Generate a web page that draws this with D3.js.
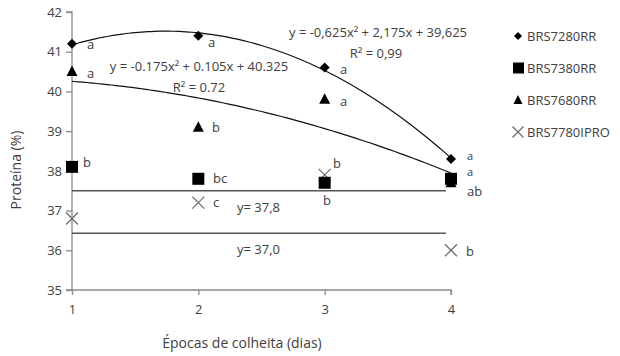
<!DOCTYPE html>
<html><head><meta charset="utf-8">
<script src="https://cdn.jsdelivr.net/npm/d3@7"></script>
<style>
body{margin:0;background:#fff;}
text{font-family:"Open Sans",sans-serif;fill:#404040;}
</style></head>
<body><svg id="chart" width="620" height="356"></svg>
<script>
// ---- data ----
const epochs = [1, 2, 3, 4];
const seriesNames = ["BRS7280RR", "BRS7380RR", "BRS7680RR", "BRS7780IPRO"];
const brs7280 = [41.2, 41.4, 40.6, 38.3];
const brs7380 = [38.1, 37.8, 37.7, 37.8];
const brs7680 = [40.5, 39.1, 39.8, 37.7];
const brs7780 = [36.8, 37.2, 37.9, 36.0];
const letters7280 = ["a", "a", "a", "a"];
const letters7380 = ["b", "bc", "b", "a"];
const letters7680 = ["a", "b", "a", "ab"];
const letters7780 = ["", "c", "b", "b"];
const yTicks = [35, 36, 37, 38, 39, 40, 41, 42];
const xTicks = [1, 2, 3, 4];
const coef7280 = [-0.625, 2.175, 39.625];
const coef7680 = [-0.175, 0.105, 40.325];
const hLineValues = [37.5, 36.43];
const hLineLabels = ["y= 37,8", "y= 37,0"];

const svg = d3.select("#chart");
const x = d3.scaleLinear().domain([1, 4]).range([72, 451]);
const y = d3.scaleLinear().domain([35, 42]).range([290, 12]);

// axes
const axisColor = "#8a8a8a";
const gy = svg.append("g").attr("transform", "translate(72,0)")
  .call(d3.axisLeft(y).tickValues(yTicks).tickSize(6).tickPadding(4).tickFormat(d3.format("d")));
const gx = svg.append("g").attr("transform", "translate(0,290)")
  .call(d3.axisBottom(x).tickValues(xTicks).tickSize(5).tickPadding(10).tickFormat(d3.format("d")));
[gx, gy].forEach(g => {
  g.select(".domain").attr("stroke", axisColor).attr("stroke-width", 1.3);
  g.selectAll(".tick line").attr("stroke", axisColor).attr("stroke-width", 1.3);
  g.selectAll(".tick text").style("font-size", "13px").style("font-family", "Open Sans").attr("fill", "#404040");
});
gy.select(".domain").attr("d", "M-6,290H0V12H-6");
gx.select(".domain").attr("d", "M72,0H451V5");

// axis titles
svg.append("text").attr("x", 242).attr("y", 348).attr("text-anchor", "middle")
  .style("font-size", "14px").text("Épocas de colheita (dias)");
svg.append("text").attr("transform", "translate(21,170) rotate(-90)").attr("text-anchor", "middle")
  .style("font-size", "14px").text("Proteína (%)");

// horizontal lines
hLineValues.forEach((v, i) => {
  svg.append("line").attr("x1", x(1)).attr("x2", x(3.96)).attr("y1", y(v)).attr("y2", y(v))
    .attr("stroke", "#555").attr("stroke-width", 1.5);
});
svg.append("text").attr("x", 237).attr("y", 212).style("font-size", "13px").text(hLineLabels[0]);
svg.append("text").attr("x", 237).attr("y", 254).style("font-size", "13px").text(hLineLabels[1]);

// trend curves
function quad(c) { return d3.range(1, 4.001, 0.05).map(t => [t, c[0]*t*t + c[1]*t + c[2]]); }
const line = d3.line().x(d => x(d[0])).y(d => y(d[1])).curve(d3.curveMonotoneX);
svg.append("path").attr("d", line(quad(coef7280))).attr("fill", "none").attr("stroke", "#111").attr("stroke-width", 1.2);
svg.append("path").attr("d", line(quad(coef7680))).attr("fill", "none").attr("stroke", "#111").attr("stroke-width", 1.2);

// equations
svg.append("text").attr("x", 378).attr("y", 37).attr("text-anchor", "middle").style("font-size", "13px").text("y = -0,625x² + 2,175x + 39,625");
svg.append("text").attr("x", 376).attr("y", 58).attr("text-anchor", "middle").style("font-size", "13px").text("R² = 0,99");
svg.append("text").attr("x", 199).attr("y", 71).attr("text-anchor", "middle").style("font-size", "13px").text("y = -0.175x² + 0.105x + 40.325");
svg.append("text").attr("x", 199).attr("y", 92).attr("text-anchor", "middle").style("font-size", "13px").text("R² = 0.72");

// markers
function drawMarker(g, type) {
  if (type === 0) g.append("path").attr("d", d3.symbol().type(d3.symbolSquare).size(50)()).attr("transform", "rotate(45)").attr("fill", "#000");
  else if (type === 1) g.append("rect").attr("x", -6).attr("y", -6).attr("width", 12).attr("height", 12).attr("fill", "#000");
  else if (type === 2) g.append("path").attr("d", "M0,-6L5.5,4.5L-5.5,4.5Z").attr("fill", "#000");
  else g.append("path").attr("d", "M-6,-6L6,6M-6,6L6,-6").attr("stroke", "#6a6a6a").attr("stroke-width", 1.2).attr("fill", "none");
}
const allSeries = [brs7780, brs7380, brs7680, brs7280];
const order = [3, 1, 2, 0];
allSeries.forEach((s, k) => {
  const t = order[k];
  s.forEach((v, i) => {
    const g = svg.append("g").attr("transform", `translate(${x(epochs[i])},${y(v)})`);
    drawMarker(g, t);
  });
});

// significance letters
const letterPos = [
  { L: letters7280, pos: [[87,49],[208,47],[340,74],[467,160]] },
  { L: letters7680, pos: [[87,78],[212,132],[340,106],[467,196]] },
  { L: letters7380, pos: [[83,167],[213,183],[323,205],[467,176]] },
  { L: letters7780, pos: [[0,0],[213,207],[333,168],[466,256]] }
];
letterPos.forEach((o, k) => {
  o.L.forEach((l, i) => {
    if (!l) return;
    const small = (i === 3 && (k === 0 || k === 2));
    svg.append("text").attr("x", o.pos[i][0]).attr("y", o.pos[i][1])
      .style("font-size", small ? "11px" : "13px").text(l);
  });
});

// legend
const legY = [36, 68, 100, 132];
seriesNames.forEach((n, i) => {
  const g = svg.append("g").attr("transform", `translate(518,${legY[i]})`);
  if (i === 0) g.append("path").attr("d", d3.symbol().type(d3.symbolSquare).size(32)()).attr("transform", "rotate(45)").attr("fill", "#000");
  else if (i === 1) g.append("rect").attr("x", -5).attr("y", -5.5).attr("width", 11).attr("height", 11).attr("fill", "#000");
  else if (i === 2) g.append("path").attr("d", "M0,-5L4.5,4L-4.5,4Z").attr("fill", "#000");
  else g.append("path").attr("d", "M-5.5,-5.5L5.5,5.5M-5.5,5.5L5.5,-5.5").attr("stroke", "#6a6a6a").attr("stroke-width", 1.2);
  svg.append("text").attr("x", 527).attr("y", legY[i] + 5).style("font-size", "13px").text(n);
});
</script></body></html>
